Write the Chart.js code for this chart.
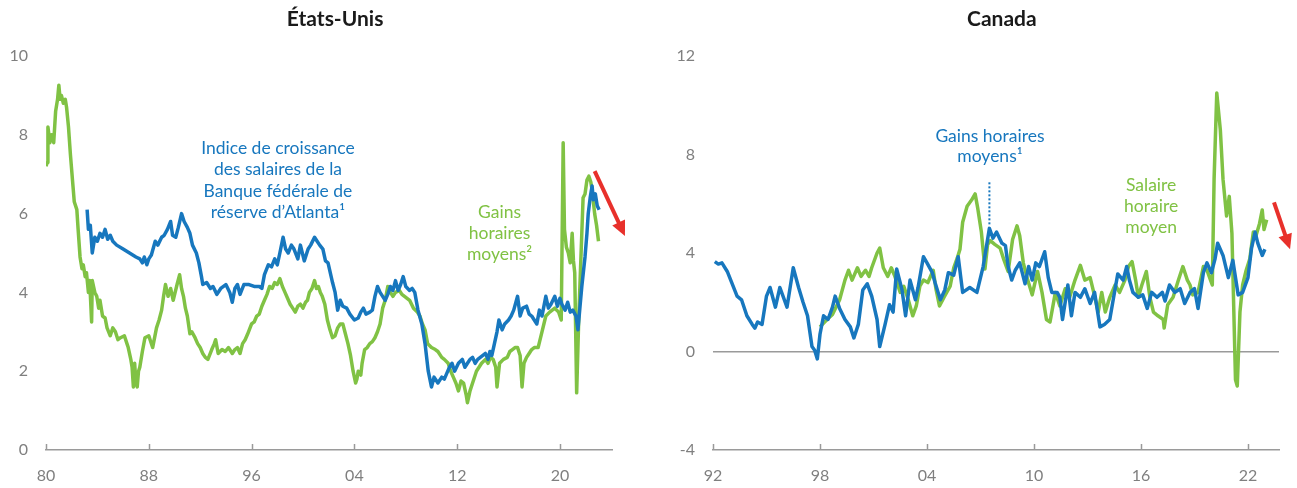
<!DOCTYPE html>
<html>
<head>
<meta charset="utf-8">
<script src="https://cdn.jsdelivr.net/npm/chart.js@4.4.0/dist/chart.umd.min.js"></script>
<style>
    body { margin: 0; background: #fff; }
    canvas { position: absolute; top: 0; }
    #graficaEU { left: 0; }
    #graficaCanada { left: 648px; }
</style>
</head>
<body>
<canvas id="graficaEU" width="648" height="488"></canvas>
<canvas id="graficaCanada" width="649" height="488"></canvas>
<script>
// ====================================================================
// Datos (variación annuelle, %)
// ====================================================================

// États-Unis - Gains horaires moyens (vert)
const euGainsAnnees = [1980.0, 1980.1, 1980.15, 1980.3, 1980.45, 1980.6, 1980.75, 1980.9, 1981.0, 1981.1, 1981.2, 1981.35, 1981.5, 1981.6, 1981.75, 1981.9,
    1982.1, 1982.2, 1982.4, 1982.5, 1982.65, 1982.8, 1982.9, 1983.05, 1983.15, 1983.3, 1983.4, 1983.55, 1983.6, 1983.8, 1983.95,
    1984.1, 1984.2, 1984.4, 1984.6, 1984.75, 1985.0, 1985.2, 1985.4, 1985.6, 1985.8, 1986.1, 1986.3, 1986.4, 1986.6, 1986.7, 1986.8, 1986.9,
    1987.0, 1987.1, 1987.2, 1987.3, 1987.5, 1987.7, 1988.0, 1988.1, 1988.3, 1988.6, 1988.8, 1989.0, 1989.15, 1989.3, 1989.5, 1989.7, 1989.9,
    1990.05, 1990.2, 1990.4, 1990.55, 1990.7, 1990.85, 1991.0, 1991.2, 1991.35, 1991.6, 1991.8, 1992.0, 1992.2, 1992.4, 1992.6, 1992.9,
    1993.1, 1993.2, 1993.4, 1993.7, 1993.95, 1994.2, 1994.5, 1994.7, 1994.9, 1995.1, 1995.3, 1995.5, 1995.7, 1996.0, 1996.2, 1996.4, 1996.6, 1996.8,
    1997.0, 1997.2, 1997.4, 1997.6, 1997.8, 1998.0, 1998.2, 1998.4, 1998.6, 1998.8, 1999.0, 1999.2, 1999.4, 1999.6, 1999.8,
    2000.0, 2000.2, 2000.35, 2000.5, 2000.7, 2000.9, 2001.05, 2001.2, 2001.35, 2001.5, 2001.7, 2001.9, 2002.1, 2002.3, 2002.5, 2002.7, 2002.9,
    2003.1, 2003.3, 2003.5, 2003.7, 2003.9, 2004.1, 2004.2, 2004.3, 2004.5, 2004.6, 2004.8, 2005.0, 2005.2, 2005.4, 2005.6, 2005.8,
    2006.0, 2006.2, 2006.4, 2006.6, 2006.8, 2007.0, 2007.2, 2007.5, 2007.7, 2007.9, 2008.1, 2008.3, 2008.6, 2008.9, 2009.1, 2009.3, 2009.5, 2009.7,
    2010.0, 2010.3, 2010.5, 2010.8, 2011.0, 2011.3, 2011.5, 2011.7, 2011.9, 2012.1, 2012.3, 2012.5, 2012.7, 2012.8, 2013.0, 2013.2, 2013.5, 2013.7, 2013.9,
    2014.2, 2014.4, 2014.6, 2014.8, 2015.0, 2015.1, 2015.3, 2015.6, 2015.9, 2016.1, 2016.3, 2016.5, 2016.7, 2016.9, 2017.05, 2017.2, 2017.4, 2017.6, 2017.8,
    2018.0, 2018.3, 2018.6, 2018.9, 2019.2, 2019.6, 2019.9, 2020.1, 2020.25, 2020.35, 2020.5, 2020.65, 2020.8, 2020.95, 2021.05, 2021.15, 2021.3, 2021.45,
    2021.55, 2021.7, 2021.8, 2021.95, 2022.1, 2022.25, 2022.4, 2022.5, 2022.7, 2022.85, 2023.0];
const euGainsValeurs = [7.2, 7.3, 8.2, 7.8, 8.0, 7.8, 8.6, 8.9, 9.26, 8.9, 9.0, 8.8, 8.9, 8.7, 8.2, 7.5,
    6.7, 6.3, 6.1, 5.6, 4.9, 4.6, 4.7, 4.4, 4.5, 4.0, 4.3, 3.25, 4.3, 4.0, 3.9,
    3.6, 3.8, 3.4, 3.35, 3.1, 2.9, 3.1, 3.0, 2.8, 2.85, 2.9, 2.7, 2.6, 2.3, 2.1, 1.6, 2.2,
    1.7, 1.6, 2.0, 2.1, 2.5, 2.85, 2.9, 2.8, 2.6, 3.1, 3.3, 3.55, 3.9, 4.2, 3.9, 4.1, 3.8,
    4.0, 4.2, 4.45, 4.1, 3.9, 3.6, 3.4, 2.95, 3.0, 2.85, 2.7, 2.6, 2.45, 2.35, 2.3, 2.55,
    2.7, 2.8, 2.45, 2.55, 2.5, 2.6, 2.45, 2.55, 2.6, 2.45, 2.7, 2.8, 2.95, 3.2, 3.25, 3.4, 3.45, 3.65,
    3.8, 3.95, 4.15, 4.1, 4.25, 4.2, 4.35, 4.15, 4.0, 3.85, 3.7, 3.6, 3.5, 3.65, 3.7,
    3.6, 3.75, 3.8, 4.0, 4.1, 4.3, 4.1, 4.15, 4.0, 3.9, 3.7, 3.3, 3.05, 2.85, 2.9, 3.1, 3.2,
    3.2, 2.95, 2.7, 2.4, 2.0, 1.7, 1.8, 2.0, 1.9, 2.2, 2.55, 2.6, 2.7, 2.75, 2.85, 3.0,
    3.2, 3.6, 3.8, 4.15, 4.0, 3.9, 4.0, 4.05, 3.95, 3.9, 3.85, 3.8, 3.6, 3.5, 3.4, 3.2, 3.05, 2.7,
    2.6, 2.55, 2.5, 2.35, 2.3, 2.2, 2.0, 1.85, 1.7, 1.5, 1.75, 1.7, 1.4, 1.2, 1.5, 1.7, 2.0, 2.1, 2.2,
    2.3, 2.2, 2.35, 2.3, 2.1, 1.6, 2.2, 2.3, 2.35, 2.5, 2.55, 2.6, 2.6, 2.4, 1.6, 2.2, 2.35, 2.45, 2.55,
    2.6, 2.6, 3.0, 3.4, 3.5, 3.6, 3.5, 3.3, 7.8, 5.6, 5.15, 5.0, 4.75, 5.5, 4.8, 4.5, 1.45, 3.2,
    4.15, 5.5, 6.4, 6.5, 6.85, 6.95, 6.8, 6.6, 6.0, 5.7, 5.3];

// États-Unis - Indice de croissance des salaires de la Fed d'Atlanta (bleu)
const euAtlantaAnnees = [1983.2, 1983.3, 1983.45, 1983.6, 1983.8, 1984.0, 1984.2, 1984.4, 1984.6, 1984.8, 1985.0, 1985.2, 1985.5, 1986.0, 1986.5,
    1987.0, 1987.3, 1987.5, 1987.65, 1987.85, 1988.0, 1988.2, 1988.5, 1988.7, 1989.0, 1989.2, 1989.45, 1989.7, 1989.85,
    1990.1, 1990.3, 1990.55, 1990.75, 1991.0, 1991.2, 1991.4, 1991.7, 1991.9, 1992.1, 1992.2, 1992.5, 1992.8,
    1993.0, 1993.3, 1993.6, 1994.0, 1994.3, 1994.5, 1994.7, 1994.9, 1995.1, 1995.4, 1995.8, 1996.2, 1996.6, 1996.8,
    1997.0, 1997.3, 1997.55, 1997.8, 1998.0, 1998.2, 1998.45, 1998.65, 1998.85, 1999.1, 1999.3, 1999.6, 1999.8,
    2000.1, 2000.4, 2000.6, 2000.9, 2001.1, 2001.3, 2001.55, 2001.75, 2001.95, 2002.3, 2002.5, 2002.7, 2002.9,
    2003.1, 2003.4, 2003.65, 2004.0, 2004.3, 2004.5, 2004.7, 2004.9, 2005.2, 2005.4, 2005.6, 2005.8,
    2006.0, 2006.2, 2006.4, 2006.6, 2006.8, 2007.0, 2007.2, 2007.4, 2007.6, 2007.8, 2008.0, 2008.3, 2008.5, 2008.7, 2008.95,
    2009.25, 2009.5, 2009.75, 2010.0, 2010.2, 2010.5, 2010.8, 2011.0, 2011.2, 2011.4, 2011.6, 2011.8, 2012.1, 2012.4, 2012.6, 2012.8,
    2013.0, 2013.2, 2013.4, 2013.6, 2013.8, 2014.0, 2014.2, 2014.4, 2014.55, 2014.7, 2014.9, 2015.1, 2015.25, 2015.5, 2015.7,
    2016.0, 2016.2, 2016.4, 2016.7, 2016.9, 2017.1, 2017.4, 2017.6, 2017.8, 2018.0, 2018.2, 2018.4, 2018.6, 2018.9,
    2019.1, 2019.3, 2019.6, 2019.8, 2020.0, 2020.15, 2020.4, 2020.6, 2020.8, 2021.0, 2021.25, 2021.4, 2021.55, 2021.7, 2021.95,
    2022.1, 2022.2, 2022.35, 2022.5, 2022.6, 2022.75, 2022.9, 2023.05];
const euAtlantaValeurs = [6.1, 5.6, 5.7, 5.0, 5.4, 5.3, 5.5, 5.4, 5.6, 5.35, 5.45, 5.3, 5.2, 5.1, 5.0,
    4.9, 4.85, 4.75, 4.9, 4.7, 4.85, 4.95, 5.3, 5.2, 5.4, 5.45, 5.6, 5.8, 5.45,
    5.4, 5.65, 6.0, 5.8, 5.65, 5.5, 5.2, 5.0, 4.75, 4.4, 4.2, 4.25, 4.1,
    4.15, 3.95, 4.1, 4.2, 4.0, 3.75, 4.1, 4.2, 3.95, 4.2, 4.2, 4.15, 4.15, 4.1,
    4.45, 4.7, 4.65, 4.85, 4.7, 5.0, 5.4, 5.1, 5.0, 5.2, 5.1, 4.85, 5.2,
    4.8, 5.1, 5.2, 5.4, 5.3, 5.2, 5.1, 4.8, 4.75, 4.25, 4.0, 3.55, 3.8,
    3.65, 3.6, 3.45, 3.3, 3.35, 3.5, 3.6, 3.45, 3.5, 3.55, 3.9, 4.15,
    4.0, 3.9, 3.8, 3.95, 4.15, 4.05, 4.3, 4.05, 4.2, 4.4, 4.15, 4.05, 4.1, 4.0, 3.55,
    3.2, 2.7, 2.0, 1.6, 1.85, 1.7, 1.85, 1.8, 1.95, 2.1, 2.2, 2.0, 2.2, 2.3, 2.1, 2.2,
    2.3, 2.35, 2.2, 2.3, 2.35, 2.4, 2.45, 2.3, 2.5, 2.4, 2.7, 3.0, 3.3, 3.05, 3.2,
    3.3, 3.4, 3.55, 3.9, 3.4, 3.6, 3.65, 3.45, 3.4, 3.3, 3.2, 3.55, 3.4, 3.9,
    3.6, 3.7, 3.9, 3.65, 3.85, 3.7, 3.55, 3.75, 3.5, 3.55, 3.4, 3.05, 3.6, 4.15, 4.9,
    5.5, 6.0, 6.4, 6.7, 6.35, 6.5, 6.2, 6.1];

// Canada - Gains horaires moyens (bleu)
const caGainsAnnees = [1992.1, 1992.3, 1992.5, 1992.8, 1993.05, 1993.35, 1993.6, 1993.9, 1994.2, 1994.35, 1994.5, 1994.75,
    1995.0, 1995.2, 1995.5, 1995.75, 1996.15, 1996.5, 1996.8, 1997.05, 1997.3, 1997.55, 1997.7, 1997.85,
    1998.0, 1998.2, 1998.45, 1998.7, 1998.85, 1999.1, 1999.4, 1999.7, 1999.9, 2000.15, 2000.4, 2000.65, 2000.9,
    2001.2, 2001.35, 2001.65, 2001.9, 2002.1, 2002.3, 2002.6, 2002.8, 2003.05, 2003.35, 2003.5, 2003.8,
    2004.0, 2004.3, 2004.45, 2004.75, 2005.0, 2005.2, 2005.5, 2005.75, 2006.0, 2006.4, 2006.8, 2007.15, 2007.5, 2007.7, 2007.9,
    2008.2, 2008.4, 2008.55, 2008.75, 2008.95, 2009.2, 2009.5, 2009.7, 2009.9, 2010.1, 2010.3, 2010.6, 2010.8,
    2011.0, 2011.3, 2011.45, 2011.6, 2011.9, 2012.1, 2012.3, 2012.6, 2012.85, 2013.15, 2013.4, 2013.7, 2013.95,
    2014.25, 2014.55, 2014.7, 2015.0, 2015.2, 2015.35, 2015.55, 2015.85, 2016.1, 2016.35, 2016.6, 2016.9,
    2017.2, 2017.35, 2017.6, 2017.9, 2018.2, 2018.45, 2018.75, 2019.0, 2019.2, 2019.5, 2019.7, 2019.95,
    2020.15, 2020.3, 2020.6, 2020.9, 2021.15, 2021.45, 2021.7, 2022.0, 2022.2, 2022.4, 2022.55, 2022.8, 2022.95];
const caGainsValeurs = [3.65, 3.55, 3.6, 3.25, 2.8, 2.25, 2.1, 1.45, 1.1, 0.95, 1.2, 1.1,
    2.25, 2.6, 1.8, 2.6, 1.8, 3.4, 2.6, 2.0, 1.45, 0.2, 0.05, -0.3,
    0.7, 1.45, 1.3, 1.8, 2.25, 1.75, 1.3, 1.0, 0.55, 1.1, 2.5, 2.75, 2.25,
    1.3, 0.2, 1.1, 1.9, 1.6, 3.35, 2.5, 1.45, 2.9, 2.1, 2.6, 3.85,
    3.6, 3.2, 2.8, 2.1, 2.5, 3.2, 3.1, 3.85, 2.4, 2.6, 2.4, 3.45, 5.0, 4.6, 4.85,
    4.4, 4.3, 3.45, 2.9, 3.3, 3.6, 2.75, 3.45, 2.9, 3.6, 3.45, 4.05, 3.0,
    2.4, 2.4, 2.2, 1.3, 2.7, 1.45, 2.4, 2.2, 2.55, 1.95, 2.4, 1.0, 1.1,
    1.3, 2.55, 3.15, 2.9, 3.45, 2.9, 2.4, 2.2, 2.3, 1.75, 2.4, 2.2,
    2.4, 2.05, 2.7, 2.4, 2.55, 1.95, 2.4, 2.55, 1.75, 3.2, 3.6, 3.2,
    3.75, 4.4, 3.9, 3.0, 3.7, 2.3, 2.4, 3.0, 4.2, 4.85, 4.4, 3.9, 4.15];

// Canada - Salaire horaire moyen (vert)
const caSalaireAnnees = [1998.0, 1998.4, 1998.7, 1999.1, 1999.4, 1999.6, 1999.8, 2000.1, 2000.3, 2000.55, 2000.75, 2000.9,
    2001.2, 2001.35, 2001.55, 2001.8, 2002.0, 2002.2, 2002.5, 2002.7, 2002.95, 2003.2, 2003.4, 2003.6, 2003.8,
    2004.05, 2004.35, 2004.5, 2004.7, 2004.95, 2005.3, 2005.5, 2005.7, 2005.85, 2006.0, 2006.25, 2006.5, 2006.7, 2006.85,
    2007.05, 2007.25, 2007.4, 2007.55, 2007.8, 2008.1, 2008.3, 2008.55, 2008.8, 2009.05, 2009.2, 2009.4, 2009.65, 2009.9,
    2010.2, 2010.45, 2010.7, 2010.9, 2011.2, 2011.45, 2011.75, 2012.0, 2012.3, 2012.6, 2012.85, 2013.15, 2013.35, 2013.6, 2013.8,
    2014.0, 2014.25, 2014.55, 2014.8, 2015.1, 2015.3, 2015.5, 2015.7, 2015.85, 2016.05, 2016.3, 2016.5, 2016.7, 2016.95,
    2017.25, 2017.3, 2017.5, 2017.8, 2018.1, 2018.35, 2018.6, 2018.75, 2018.9, 2019.2, 2019.5, 2019.7, 2019.9,
    2020.0, 2020.1, 2020.25, 2020.45, 2020.6, 2020.8, 2020.95, 2021.1, 2021.3, 2021.4, 2021.55, 2021.7, 2021.9,
    2022.1, 2022.3, 2022.45, 2022.65, 2022.8, 2022.9, 2023.05];
const caSalaireValeurs = [1.0, 1.3, 1.5, 2.1, 2.9, 3.3, 2.9, 3.4, 3.05, 3.3, 3.05, 3.4,
    4.0, 4.2, 3.4, 3.05, 3.4, 3.05, 2.4, 2.65, 2.1, 1.45, 1.85, 2.65, 2.9,
    2.8, 3.3, 2.55, 1.85, 2.2, 2.65, 3.4, 3.8, 4.15, 5.25, 5.9, 6.15, 6.4, 5.8,
    4.85, 3.35, 4.35, 4.5, 4.35, 4.2, 3.75, 3.25, 4.55, 5.1, 4.7, 3.6, 2.9, 2.3,
    3.25, 2.4, 1.3, 1.2, 2.4, 1.85, 2.55, 2.2, 2.9, 3.5, 2.9, 3.0, 2.4, 1.6, 2.4,
    1.6, 2.2, 2.7, 2.4, 2.9, 3.45, 3.65, 2.9, 2.2, 2.7, 3.25, 2.2, 1.6, 1.45,
    1.3, 0.95, 1.9, 2.2, 2.9, 3.45, 2.9, 2.7, 2.3, 2.4, 3.45, 3.3, 2.9,
    2.7, 7.0, 10.5, 9.0, 7.0, 5.5, 6.3, 4.8, -1.15, -1.4, 1.6, 2.7, 3.3,
    3.75, 4.85, 4.7, 5.2, 5.75, 4.95, 5.35];

// Graduations
const euTicksX = [1980, 1988, 1996, 2004, 2012, 2020];
const euTicksY = [0, 2, 4, 6, 8, 10];
const caTicksX = [1992, 1998, 2004, 2010, 2016, 2022];
const caTicksY = [-4, 0, 4, 8, 12];

const BLEU = '#1777be';
const VERT = '#80c244';
const ROUGE = '#e8302b';
const GRIS = '#7f7f7f';
const FONT = 'Lato, "Open Sans", sans-serif';

function serie(annees, valeurs) {
    return annees.map((x, i) => ({ x: x, y: valeurs[i] }));
}

// Plugin pour titre, étiquettes, flèches et petites graduations de l'axe X
const pluginNotes = {
    id: 'notes',
    afterDatasetsDraw(chart, args, opts) {
        const ctx = chart.ctx;
        const sx = chart.scales.x;
        const sy = chart.scales.y;
        ctx.save();

        // petites graduations vers le haut
        ctx.strokeStyle = '#9a9a9a';
        ctx.lineWidth = 1.5;
        sx.ticks.forEach(t => {
            const px = Math.round(sx.getPixelForValue(t.value)) + 0.5;
            ctx.beginPath();
            ctx.moveTo(px, chart.chartArea.bottom);
            ctx.lineTo(px, chart.chartArea.bottom - 6);
            ctx.stroke();
        });

        // titre
        ctx.fillStyle = '#1a1a1a';
        ctx.font = 'bold 21px ' + FONT;
        ctx.textAlign = 'center';
        ctx.textBaseline = 'middle';
        ctx.fillText(opts.titre.texte, sx.getPixelForValue(opts.titre.x), 19);

        // étiquettes des séries
        ctx.font = '17.5px ' + FONT;
        opts.etiquettes.forEach(e => {
            ctx.fillStyle = e.couleur;
            const px = sx.getPixelForValue(e.x);
            const py = sy.getPixelForValue(e.y);
            e.lignes.forEach((l, i) => ctx.fillText(l, px, py + i * e.interligne));
        });

        // ligne pointillée
        if (opts.pointille) {
            const p = opts.pointille;
            ctx.strokeStyle = BLEU;
            ctx.lineWidth = 2;
            ctx.setLineDash([2, 2]);
            ctx.beginPath();
            ctx.moveTo(sx.getPixelForValue(p.x), sy.getPixelForValue(p.y1));
            ctx.lineTo(sx.getPixelForValue(p.x), sy.getPixelForValue(p.y2));
            ctx.stroke();
            ctx.setLineDash([]);
        }

        // flèche rouge
        const f = opts.fleche;
        const x1 = sx.getPixelForValue(f.x1), y1 = sy.getPixelForValue(f.y1);
        const x2 = sx.getPixelForValue(f.x2), y2 = sy.getPixelForValue(f.y2);
        const ang = Math.atan2(y2 - y1, x2 - x1);
        const tete = 15;
        ctx.strokeStyle = ROUGE;
        ctx.fillStyle = ROUGE;
        ctx.lineWidth = 4;
        ctx.beginPath();
        ctx.moveTo(x1, y1);
        ctx.lineTo(x2 - tete * 0.8 * Math.cos(ang), y2 - tete * 0.8 * Math.sin(ang));
        ctx.stroke();
        ctx.beginPath();
        ctx.moveTo(x2, y2);
        ctx.lineTo(x2 - tete * Math.cos(ang) + 7 * Math.sin(ang), y2 - tete * Math.sin(ang) - 7 * Math.cos(ang));
        ctx.lineTo(x2 - tete * Math.cos(ang) - 7 * Math.sin(ang), y2 - tete * Math.sin(ang) + 7 * Math.cos(ang));
        ctx.closePath();
        ctx.fill();
        ctx.restore();
    }
};

function renderPanneau(canvasId, cfg) {
    const ctx = document.getElementById(canvasId).getContext('2d');
    return new Chart(ctx, {
        type: 'line',
        data: {
            datasets: cfg.series.map(s => ({
                data: s.data,
                borderColor: s.couleur,
                borderWidth: 3.5,
                borderJoinStyle: 'round',
                pointRadius: 0,
                tension: 0,
                fill: false
            }))
        },
        options: {
            responsive: false,
            animation: false,
            layout: { padding: { top: 56, right: cfg.margeDroite, left: 0, bottom: 0 } },
            plugins: {
                legend: { display: false },
                tooltip: { enabled: false },
                notes: cfg.notes
            },
            scales: {
                x: {
                    type: 'linear',
                    min: cfg.minX,
                    max: cfg.maxX,
                    afterBuildTicks: scale => { scale.ticks = cfg.ticksX.map(v => ({ value: v })); },
                    afterFit: scale => { scale.height = 38; },
                    ticks: {
                        color: GRIS,
                        font: { family: FONT, size: 16 },
                        padding: 16,
                        maxRotation: 0,
                        callback: v => String(v).slice(2)
                    },
                    grid: { drawOnChartArea: false, drawTicks: false },
                    border: { display: true, color: '#9a9a9a', width: 1.5 }
                },
                y: {
                    min: cfg.minY,
                    max: cfg.maxY,
                    afterBuildTicks: scale => { scale.ticks = cfg.ticksY.map(v => ({ value: v })); },
                    afterFit: scale => { scale.width = cfg.largeurY; },
                    ticks: {
                        color: GRIS,
                        font: { family: FONT, size: 16 },
                        padding: 18
                    },
                    grid: {
                        drawTicks: false,
                        lineWidth: 1.5,
                        color: c => (cfg.ligneZero && c.tick && c.tick.value === 0) ? '#9a9a9a' : 'rgba(0,0,0,0)'
                    },
                    border: { display: false }
                }
            }
        },
        plugins: [pluginNotes]
    });
}

renderPanneau('graficaEU', {
    series: [
        { data: serie(euAtlantaAnnees, euAtlantaValeurs), couleur: BLEU },
        { data: serie(euGainsAnnees, euGainsValeurs), couleur: VERT }
    ],
    minX: 1980, maxX: 2024.05, ticksX: euTicksX,
    minY: 0, maxY: 10, ticksY: euTicksY,
    largeurY: 46, margeDroite: 36, ligneZero: false,
    notes: {
        titre: { texte: 'États-Unis', x: 2002.5 },
        etiquettes: [
            { lignes: ['Indice de croissance', 'des salaires de la', 'Banque fédérale de', 'réserve d’Atlanta¹'], x: 1998.05, y: 7.66, interligne: 21.5, couleur: BLEU },
            { lignes: ['Gains', 'horaires', 'moyens²'], x: 2015.3, y: 6.02, interligne: 21, couleur: VERT }
        ],
        fleche: { x1: 2022.7, y1: 7.08, x2: 2025.06, y2: 5.43 }
    }
});

renderPanneau('graficaCanada', {
    series: [
        { data: serie(caGainsAnnees, caGainsValeurs), couleur: BLEU },
        { data: serie(caSalaireAnnees, caSalaireValeurs), couleur: VERT }
    ],
    minX: 1992, maxX: 2023.74, ticksX: caTicksX,
    minY: -4, maxY: 12, ticksY: caTicksY,
    largeurY: 65, margeDroite: 18, ligneZero: true,
    notes: {
        titre: { texte: 'Canada', x: 2008.2 },
        etiquettes: [
            { lignes: ['Gains horaires', 'moyens¹'], x: 2007.53, y: 8.74, interligne: 20.5, couleur: BLEU },
            { lignes: ['Salaire', 'horaire', 'moyen'], x: 2016.57, y: 6.75, interligne: 21, couleur: VERT }
        ],
        pointille: { x: 2007.5, y1: 6.87, y2: 5.16 },
        fleche: { x1: 2023.46, y1: 6.06, x2: 2024.36, y2: 4.15 }
    }
});
</script>
</body>
</html>
